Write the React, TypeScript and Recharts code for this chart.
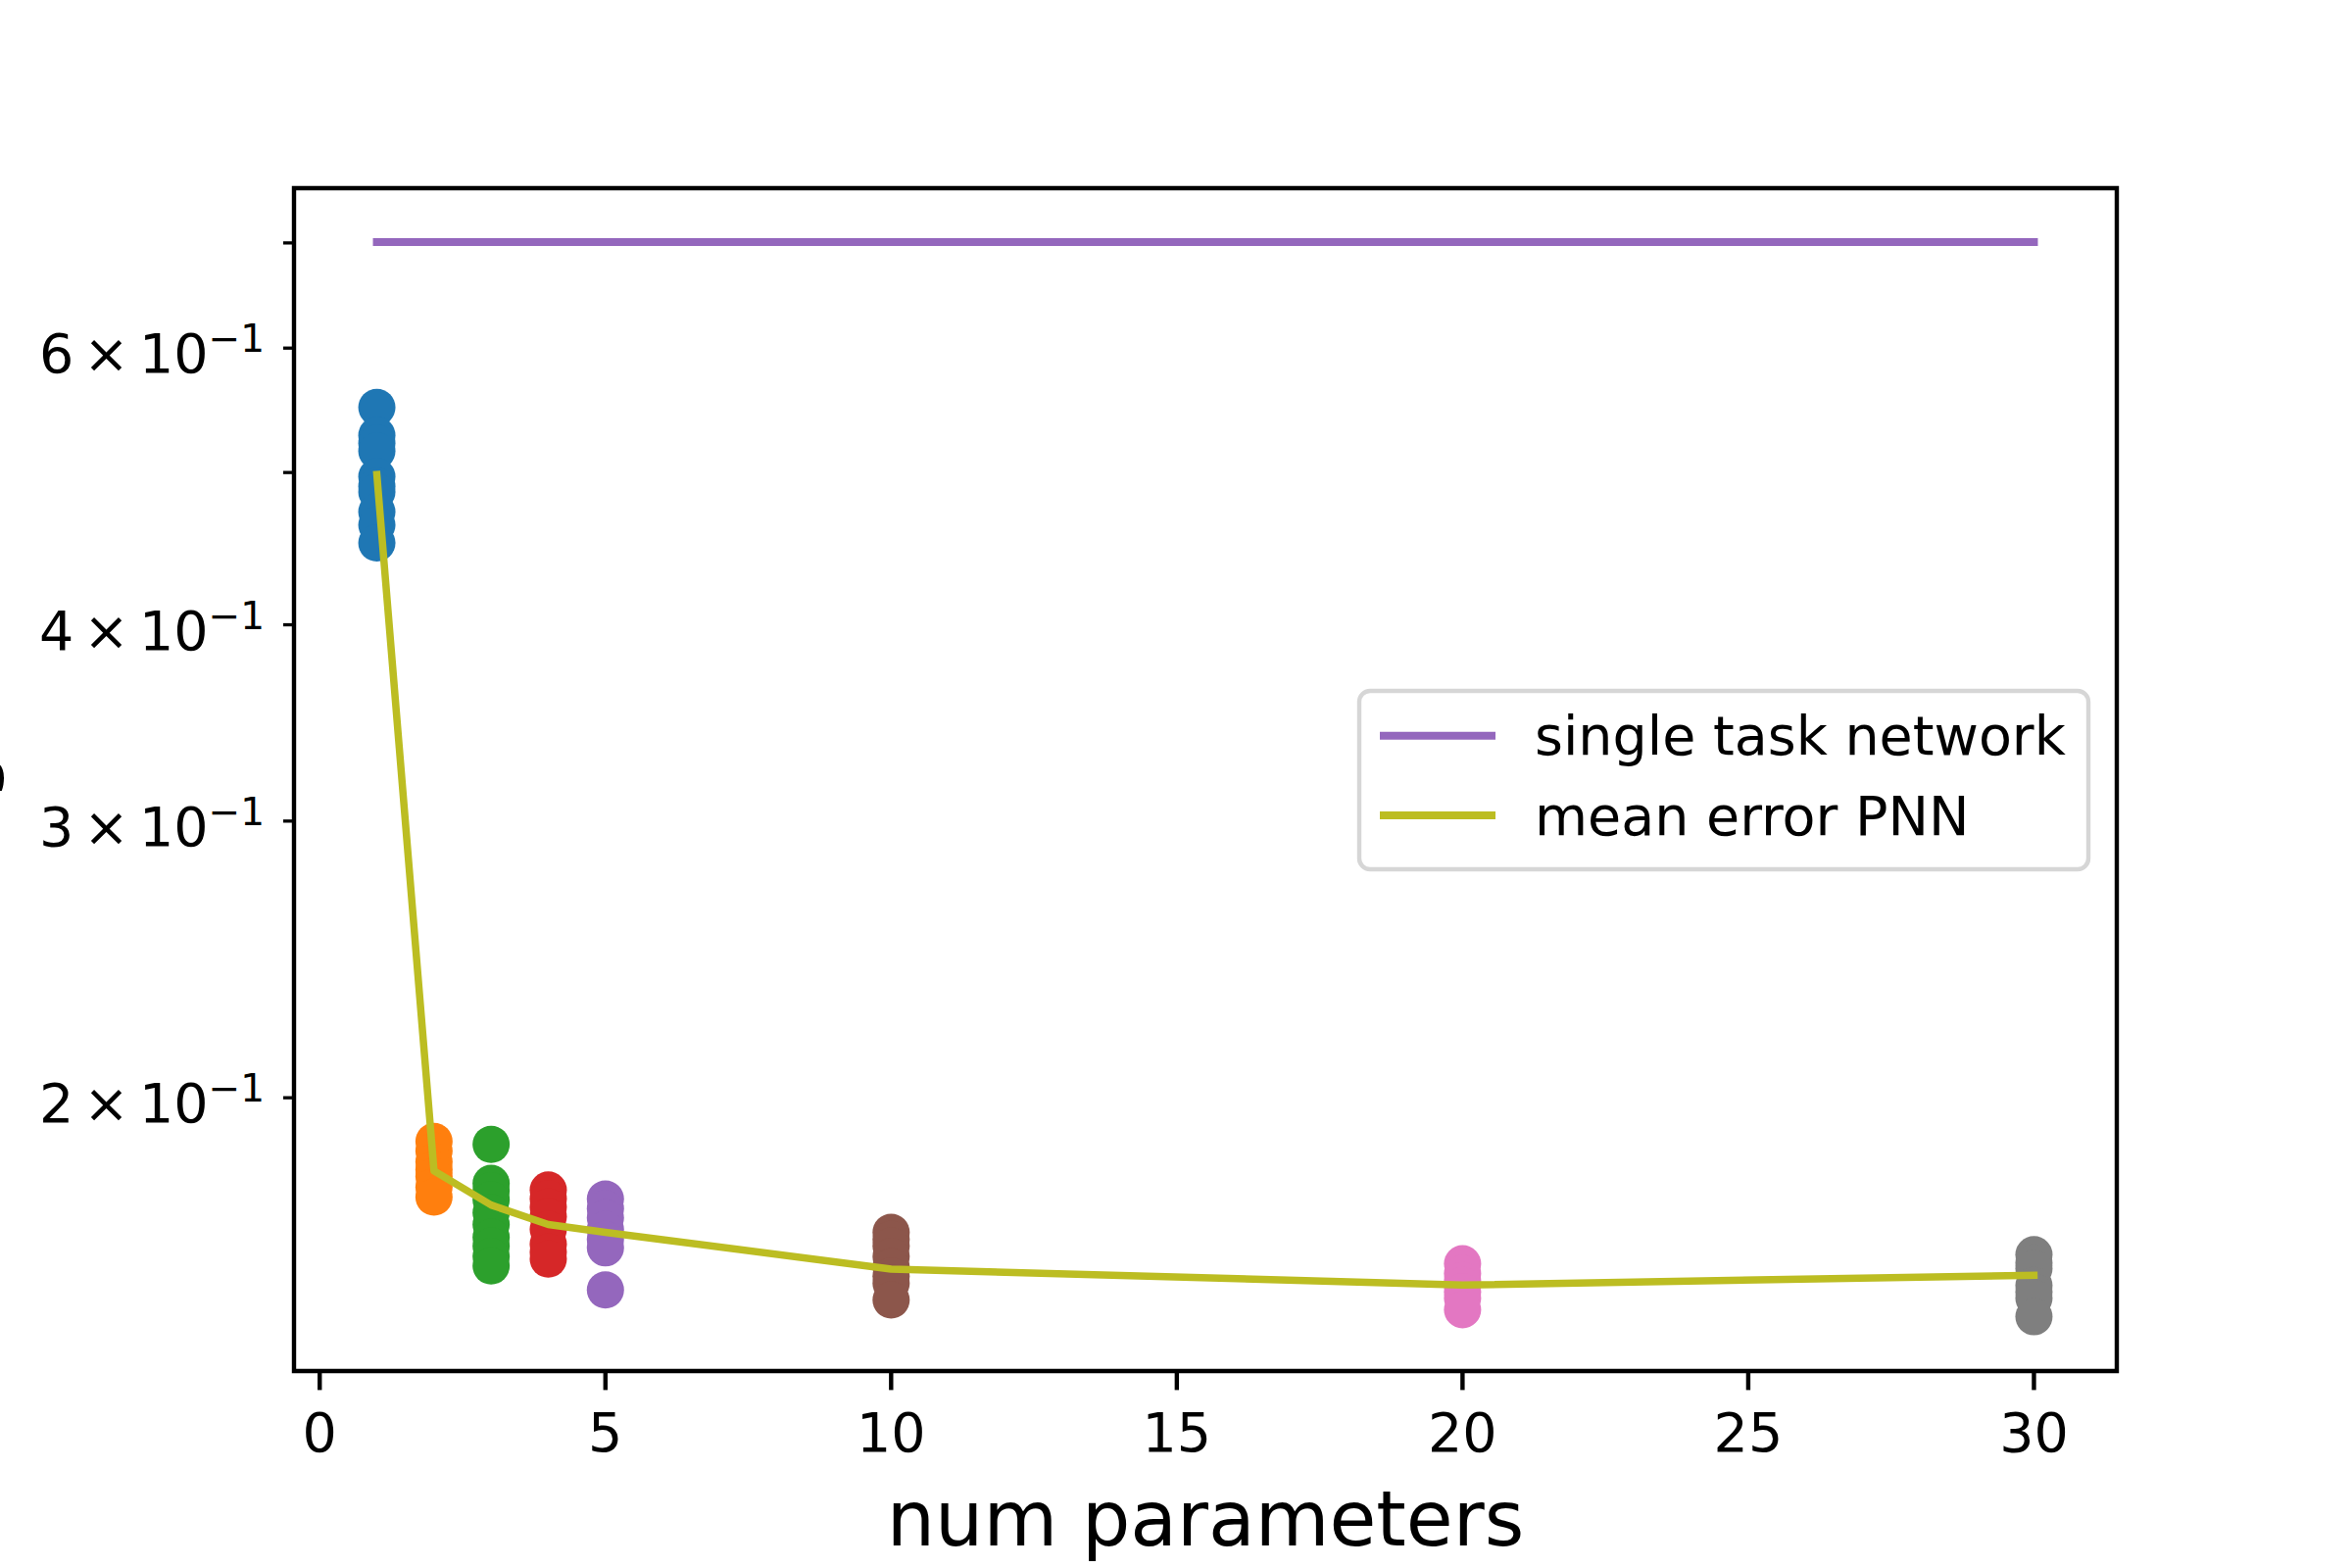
import React from 'react';
import { ComposedChart, XAxis, YAxis, Scatter, Line, ReferenceArea, Legend } from 'recharts';

// ---- data ----
const paramCounts = [1, 2, 3, 4, 5, 10, 20, 30];
const errorsP1 = [0.55, 0.528, 0.522, 0.516, 0.497, 0.49, 0.486, 0.472, 0.463, 0.451];
const errorsP2 = [0.1876, 0.185, 0.1821, 0.18, 0.1782, 0.1755, 0.1729];
const errorsP3 = [0.1868, 0.1764, 0.1745, 0.1722, 0.169, 0.1661, 0.163, 0.1609, 0.1585, 0.1563];
const errorsP4 = [0.1747, 0.1725, 0.1704, 0.168, 0.1649, 0.1614, 0.1595, 0.1579];
const errorsP5 = [0.1724, 0.17, 0.1677, 0.1649, 0.1625, 0.1605, 0.1509];
const errorsP10 = [0.1642, 0.1625, 0.1609, 0.1585, 0.1561, 0.154, 0.1524, 0.1487];
const errorsP20 = [0.1568, 0.1546, 0.153, 0.1519, 0.1505, 0.1491, 0.1466];
const errorsP30 = [0.1589, 0.157, 0.1557, 0.1519, 0.1505, 0.1491, 0.1451];
const meanErrorPNN = [0.4985, 0.1797, 0.1709, 0.1661, 0.1642, 0.1556, 0.152, 0.1542];
const singleTaskError = 0.701;
const singleTaskRange = [1, 30];

const xTicks = [0, 5, 10, 15, 20, 25, 30];
const yTicks = [0.2, 0.3, 0.4, 0.5, 0.6, 0.7];
const yTickMantissa: Record<string, string> = { '0.2': '2', '0.3': '3', '0.4': '4', '0.6': '6' };
const yTickExponent = '−1';

const seriesNames = ['single task network', 'mean error PNN'];
const xLabel = 'num parameters';
const yLabel = 'testing error';

const runGroups = [errorsP1, errorsP2, errorsP3, errorsP4, errorsP5, errorsP10, errorsP20, errorsP30];
const groupColors = ['#1f77b4', '#ff7f0e', '#2ca02c', '#d62728', '#9467bd', '#8c564b', '#e377c2', '#7f7f7f'];
const singleColor = '#9467bd';
const meanColor = '#bcbd22';

// ---- layout ----
const W = 2400;
const H = 1600;
const PLOT_LEFT = 300;
const PLOT_TOP = 192;
const PLOT_RIGHT = 2160;
const PLOT_BOTTOM = 1399;
const X_DOMAIN: [number, number] = [-0.45, 31.45];
const Y_DOMAIN: [number, number] = [0.134, 0.7585];
const FONT = "'DejaVu Sans', sans-serif";
const FS = 55.5;

const LEG_LEFT = 1383;
const LEG_TOP = 701;
const LEG_W = 752;
const LEG_H = 190;

const meanData = paramCounts.map((x, i) => ({ x, y: meanErrorPNN[i] }));
const singleData = singleTaskRange.map((x) => ({ x, y: singleTaskError }));

const XTick = (props: any) => {
  const { x, y, payload } = props;
  return (
    <g>
      <line x1={x} x2={x} y1={y} y2={y + 19.4} stroke="#000" strokeWidth={4.4} />
      <text x={x} y={y + 82} textAnchor="middle" fontFamily={FONT} fontSize={FS} fill="#000">
        {payload.value}
      </text>
    </g>
  );
};

const YTick = (props: any) => {
  const { x, y, payload } = props;
  const m = yTickMantissa[String(payload.value)];
  return (
    <g>
      <line x1={x - 11} x2={x} y1={y} y2={y} stroke="#000" strokeWidth={3.3} />
      {m && (
        <text x={x - 30} y={y + 25} textAnchor="end" fontFamily={FONT} fontSize={FS} fill="#000">
          {m}
          <tspan dx={10}>×</tspan>
          <tspan dx={10}>10</tspan>
          <tspan dy={-21} fontSize={39}>{yTickExponent}</tspan>
        </text>
      )}
    </g>
  );
};

const XLabelContent = () => (
  <text
    x={(PLOT_LEFT + PLOT_RIGHT) / 2}
    y={PLOT_BOTTOM + 178}
    textAnchor="middle"
    fontFamily={FONT}
    fontSize={77.8}
    fill="#000"
  >
    {xLabel}
  </text>
);

const YLabelContent = () => {
  const cy = (PLOT_TOP + PLOT_BOTTOM) / 2;
  const bx = -12;
  return (
    <text
      x={bx}
      y={cy}
      transform={`rotate(-90, ${bx}, ${cy})`}
      textAnchor="middle"
      fontFamily={FONT}
      fontSize={77.8}
      fill="#000"
    >
      {yLabel}
    </text>
  );
};

const LegendContent = () => (
  <svg width={LEG_W} height={LEG_H} style={{ display: 'block', overflow: 'visible' }}>
    <rect x={4} y={4} width={744} height={182} rx={11} ry={11} fill="#fff" stroke="#d6d6d6" strokeWidth={4.4} />
    <line x1={25} x2={143} y1={49.7} y2={49.7} stroke={singleColor} strokeWidth={8} />
    <line x1={25} x2={143} y1={131} y2={131} stroke={meanColor} strokeWidth={8} />
    <text x={183} y={69} fontFamily={FONT} fontSize={FS} fill="#000">{seriesNames[0]}</text>
    <text x={183} y={150.7} fontFamily={FONT} fontSize={FS} fill="#000">{seriesNames[1]}</text>
  </svg>
);

export default function App() {
  return (
    <div style={{ position: 'absolute', left: 0, top: 0, width: W, height: H, background: '#fff' }}>
      <ComposedChart
        width={W}
        height={H}
        margin={{ top: PLOT_TOP, right: W - PLOT_RIGHT, bottom: 0, left: 0 }}
      >
        <XAxis
          type="number"
          dataKey="x"
          domain={X_DOMAIN}
          ticks={xTicks}
          interval={0}
          allowDataOverflow
          height={H - PLOT_BOTTOM}
          axisLine={false}
          tickLine={false}
          tickSize={0}
          tickMargin={0}
          tick={<XTick />}
          label={{ content: XLabelContent }}
        />
        <YAxis
          type="number"
          dataKey="y"
          scale="log"
          domain={Y_DOMAIN}
          ticks={yTicks}
          interval={0}
          allowDataOverflow
          width={PLOT_LEFT}
          axisLine={false}
          tickLine={false}
          tickSize={0}
          tickMargin={0}
          tick={<YTick />}
          label={{ content: YLabelContent }}
        />
        {runGroups.map((vals, i) => {
          const color = groupColors[i];
          return (
            <Scatter
              key={`g${i}`}
              data={vals.map((y) => ({ x: paramCounts[i], y }))}
              fill={color}
              isAnimationActive={false}
              shape={(p: any) => <circle cx={p.cx} cy={p.cy} r={19} fill={color} />}
            />
          );
        })}
        <Line
          data={singleData}
          dataKey="y"
          type="linear"
          stroke={singleColor}
          strokeWidth={8}
          strokeLinecap="square"
          dot={false}
          activeDot={false}
          isAnimationActive={false}
          zIndex={1000}
        />
        <Line
          data={meanData}
          dataKey="y"
          type="linear"
          stroke={meanColor}
          strokeWidth={7.5}
          strokeLinecap="square"
          strokeLinejoin="round"
          dot={false}
          activeDot={false}
          isAnimationActive={false}
          zIndex={1000}
        />
        <ReferenceArea
          x1={X_DOMAIN[0]}
          x2={X_DOMAIN[1]}
          y1={Y_DOMAIN[0]}
          y2={Y_DOMAIN[1]}
          fill="none"
          fillOpacity={0}
          stroke="#000"
          strokeWidth={4.4}
          ifOverflow="visible"
        />
        <Legend
          layout="vertical"
          align="center"
          verticalAlign="middle"
          wrapperStyle={{ left: LEG_LEFT, top: LEG_TOP, width: LEG_W, height: LEG_H }}
          content={LegendContent}
        />
      </ComposedChart>
    </div>
  );
}
